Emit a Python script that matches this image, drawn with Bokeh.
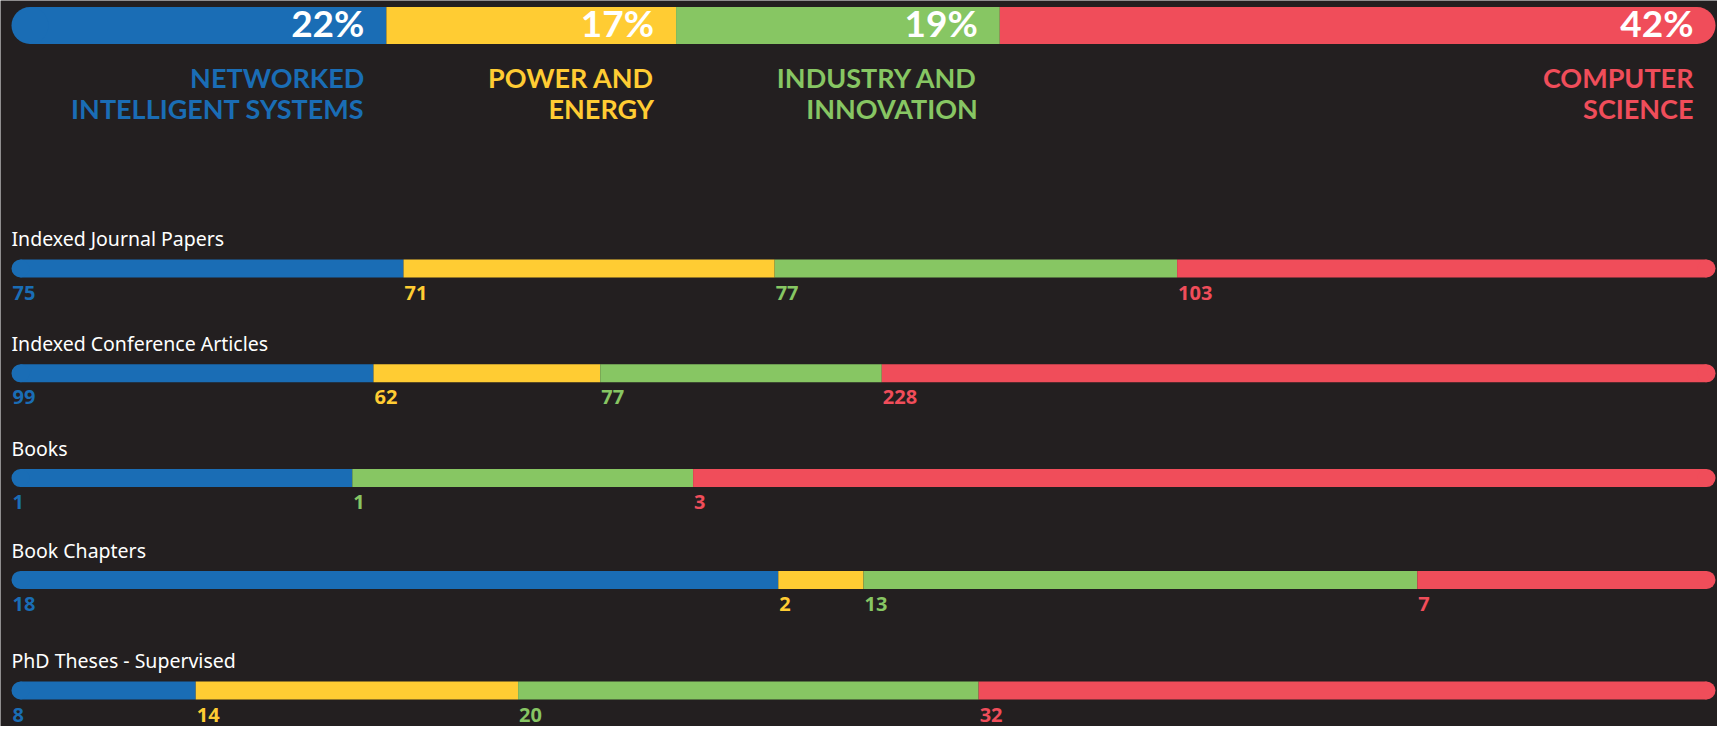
from bokeh.plotting import figure
from bokeh.models import Range1d
from bokeh.core.properties import value
from bokeh.embed import file_html
from bokeh.resources import INLINE

# ---- data ----
groups = ["NETWORKED\nINTELLIGENT SYSTEMS", "POWER AND\nENERGY", "INDUSTRY AND\nINNOVATION", "COMPUTER\nSCIENCE"]
shares = [22, 17, 19, 42]
rows = ["Indexed Journal Papers", "Indexed Conference Articles", "Books", "Book Chapters", "PhD Theses - Supervised"]
networked = [75, 99, 1, 18, 8]
power = [71, 62, 0, 2, 14]
industry = [77, 77, 1, 13, 20]
computer = [103, 228, 3, 7, 32]

# ---- style / layout ----
BG = "#231F20"
COLORS = ["#1A6DB5", "#FFCC33", "#87C663", "#F04D5A"]
W, H = 1717, 726
X0, X1 = 11.0, 1715.0          # pixel span of the bars
PX = X1 - X0                   # pixels per unit fraction along x

p = figure(width=W, height=H, output_backend="svg", toolbar_location=None,
           x_range=Range1d(-X0 / PX, (W - X0) / PX), y_range=Range1d(H, 0),
           min_border=0, background_fill_color=BG, border_fill_color=BG)
p.axis.visible = False
p.grid.visible = False
p.outline_line_color = None


def draw_bar(vals, yc, h):
    total = float(sum(vals))
    r = h / 2.0 / PX
    lefts, rights, cols = [], [], []
    acc = 0.0
    for v, c in zip(vals, COLORS):
        if v <= 0:
            continue
        lefts.append(acc / total)
        acc += v
        rights.append(acc / total)
        cols.append(c)
    bl = list(lefts)
    br = list(rights)
    bl[0] += r
    br[-1] -= r
    p.hbar(y=[yc] * len(bl), left=bl, right=br, height=h, fill_color=cols, line_color=None)
    p.scatter(x=[r, 1 - r], y=[yc, yc], size=h, marker="circle",
              fill_color=[cols[0], cols[-1]], line_color=None)
    return lefts, rights, cols


# top bar
PCT_SIZE, CAT_SIZE = 37, 27
s, e, c = draw_bar(shares, 25, 37)
p.text(x=e, y=[39 - 0.45 * PCT_SIZE] * len(e), text=[f"{v}%" for v in shares], x_offset=-22,
       text_align="right", text_baseline="alphabetic", text_color="white",
       text_font=value("Lato"), text_font_style="bold", text_font_size=f"{PCT_SIZE}px")
for i, g in enumerate(groups):
    for j, line in enumerate(g.split("\n")):
        p.text(x=[e[i]], y=[88 + 31 * j - 0.42 * CAT_SIZE], text=[line], x_offset=-22,
               text_align="right", text_baseline="alphabetic", text_color=COLORS[i],
               text_font=value("Lato"), text_font_style="bold", text_font_size=f"{CAT_SIZE}px")

# rows
TITLE_SIZE, VAL_SIZE = 19.5, 20
ref_centers = [268, 377, 486, 592, 707]
k = (690 - 268) / (707 - 268)
centers = [268 + (y - 268) * k for y in ref_centers]
series = [networked, power, industry, computer]
for n, name in enumerate(rows):
    yc = centers[n]
    vals = [sr[n] for sr in series]
    p.text(x=[0], y=[yc - 24 - 0.3 * TITLE_SIZE], text=[name], text_align="left",
           text_baseline="alphabetic", text_color="white",
           text_font=value("Noto Sans"), text_font_size=f"{TITLE_SIZE}px")
    s, e, c = draw_bar(vals, yc, 18)
    nz = [v for v in vals if v > 0]
    p.text(x=s, y=[yc + 31 - 0.35 * VAL_SIZE] * len(s), text=[str(v) for v in nz], x_offset=1,
           text_align="left", text_baseline="alphabetic", text_color=c,
           text_font=value("Noto Sans"), text_font_style="bold", text_font_size=f"{VAL_SIZE}px")

open("out.html", "w").write(file_html(p, INLINE))
